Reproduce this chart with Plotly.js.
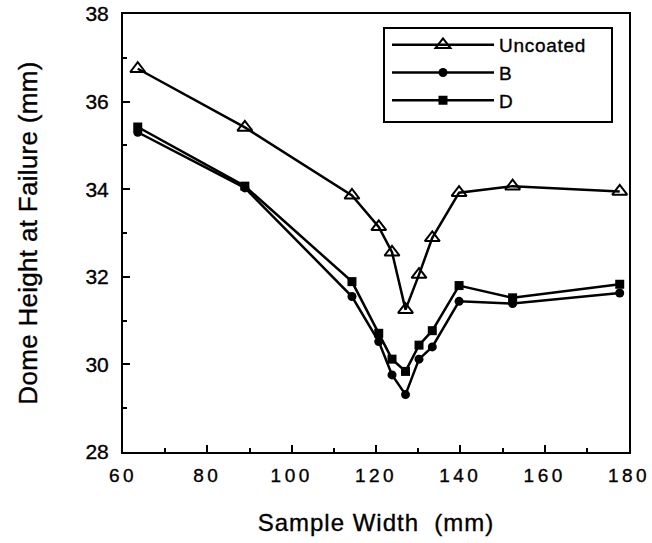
<!DOCTYPE html>
<html>
<head>
<meta charset="utf-8">
<script src="https://cdn.plot.ly/plotly-3.0.1.min.js"></script>
<style>
html,body{margin:0;padding:0;background:#fff;}
#chart{width:652px;height:543px;}
#chart .xtick text{letter-spacing:3.5px;}
#chart text.xtitle{letter-spacing:1px;}
#chart text.ytitle{letter-spacing:0.3px;}
#chart text.legendtext{letter-spacing:0.7px;}
#chart .xtick text, #chart .ytick text, #chart text.xtitle, #chart text.ytitle, #chart text.legendtext{stroke:#000;stroke-width:0.35px;}
</style>
</head>
<body>
<div id="chart"></div>
<script>
const sampleWidth = [63.5, 88.9, 114.3, 120.65, 123.8, 127.0, 130.2, 133.35, 139.7, 152.4, 177.8];
const uncoated = [36.75, 35.41, 33.86, 33.14, 32.56, 31.25, 32.05, 32.89, 33.92, 34.07, 33.95];
const seriesB  = [35.30, 34.03, 31.55, 30.52, 29.76, 29.31, 30.12, 30.40, 31.44, 31.39, 31.63];
const seriesD  = [35.42, 34.07, 31.89, 30.71, 30.12, 29.84, 30.44, 30.77, 31.80, 31.52, 31.83];
const seriesNames = ["Uncoated", "B", "D"];

const lineStyle = {color: "#000", width: 2.5};
const traces = [
  {x: sampleWidth, y: uncoated, name: seriesNames[0], mode: "lines+markers", line: lineStyle,
   marker: {symbol: "triangle-up-open", size: 13, color: "#000", line: {color: "#000", width: 2}}},
  {x: sampleWidth, y: seriesB, name: seriesNames[1], mode: "lines+markers", line: lineStyle,
   marker: {symbol: "circle", size: 9, color: "#000"}},
  {x: sampleWidth, y: seriesD, name: seriesNames[2], mode: "lines+markers", line: lineStyle,
   marker: {symbol: "square", size: 9, color: "#000"}}
];

const fam = "Liberation Sans, Arial, sans-serif";
const plotL = 123, plotR = 629, plotT = 14, plotB = 452;
const pw = plotR - plotL, ph = plotB - plotT;
const px = v => (v - plotL) / pw;
const py = v => (plotB - v) / ph;

const layout = {
  width: 652, height: 543,
  margin: {l: plotL, r: 652 - plotR, t: plotT, b: 543 - plotB},
  paper_bgcolor: "#fff", plot_bgcolor: "#fff",
  font: {family: fam, color: "#000"},
  showlegend: true,
  legend: {
    x: px(387), y: py(26), xanchor: "left", yanchor: "top",
    bgcolor: "rgba(0,0,0,0)", borderwidth: 0,
    font: {family: fam, size: 19, color: "#000"},
    itemwidth: 102
  },
  shapes: [{
    type: "rect", xref: "paper", yref: "paper", layer: "above",
    x0: px(384), x1: px(612), y0: py(122), y1: py(28),
    line: {color: "#000", width: 2}, fillcolor: "#fff"
  }],
  xaxis: {
    range: [60, 180], dtick: 20, tick0: 60,
    ticks: "inside", ticklen: 7, tickwidth: 2, tickcolor: "#000",
    minor: {dtick: 10, ticks: "inside", ticklen: 4, tickwidth: 2, tickcolor: "#000"},
    showgrid: false, zeroline: false,
    showline: true, linecolor: "#000", linewidth: 2, mirror: true,
    tickfont: {family: fam, size: 19, color: "#000"},
    ticklabelstandoff: 5, ticklabeloverflow: "allow",
    title: {text: "Sample Width\u00a0\u00a0(mm)", font: {family: fam, size: 24, color: "#000"}, standoff: 29}
  },
  yaxis: {
    range: [28, 38], dtick: 2, tick0: 28,
    ticks: "inside", ticklen: 7, tickwidth: 2, tickcolor: "#000",
    minor: {dtick: 1, ticks: "inside", ticklen: 4, tickwidth: 2, tickcolor: "#000"},
    showgrid: false, zeroline: false,
    showline: true, linecolor: "#000", linewidth: 2, mirror: true,
    tickfont: {family: fam, size: 21, color: "#000"},
    ticklabelstandoff: 8,
    title: {text: "Dome Height at Failure (mm)", font: {family: fam, size: 26, color: "#000"}, standoff: 40}
  }
};

Plotly.newPlot("chart", traces, layout, {displayModeBar: false, staticPlot: true});
</script>
</body>
</html>
